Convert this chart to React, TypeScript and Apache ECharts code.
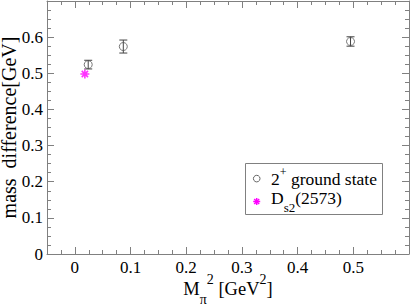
import React, { useEffect, useRef } from "react";
import * as echarts from "echarts";

const groundX = [0.024, 0.087, 0.495];
const groundY = [0.524, 0.574, 0.588];
const groundErr = [0.012, 0.018, 0.013];
const ds2X = [0.018];
const ds2Y = [0.498];
const xTickStep = 0.1;
const yTickStep = 0.1;
const legendLabels = ["{t|2}{sup|+}{t| ground state}", "{t|D}{sub|s2}{t|(2573)}"];

const SERIF = "'Liberation Serif', 'DejaVu Serif', serif";
const FRAME = "#808080";
const MAGENTA = "#ff00ff";
const STAR = "path://M0,-10L0,10M-10,0L10,0M-7,-7L7,7M-7,7L7,-7";

export default function App() {
  const ref = useRef<HTMLDivElement>(null);
  useEffect(() => {
    if (!ref.current) return;
    const chart = echarts.init(ref.current, undefined, { renderer: "svg" });
    const groundData = groundX.map((x, i) => [x, groundY[i]]);
    const errData = groundX.map((x, i) => [x, groundY[i], groundErr[i]]);
    const ds2Data = ds2X.map((x, i) => [x, ds2Y[i]]);

    const axisCommon = {
      axisLine: { show: true, onZero: false, lineStyle: { color: FRAME, width: 1 } },
      axisTick: { show: true, inside: true, length: 7, lineStyle: { color: FRAME, width: 1 } },
      minorTick: { show: true, splitNumber: 4, length: 4, lineStyle: { color: FRAME, width: 1 } },
      splitLine: { show: false },
    };
    const labelStyle = { color: "#000", fontFamily: SERIF, fontSize: 17 };

    const axRich = {
      t: { fontFamily: SERIF, fontSize: 18.5, color: "#000", lineHeight: 34, verticalAlign: "middle" },
      sup: { fontFamily: SERIF, fontSize: 14, color: "#000", lineHeight: 14, verticalAlign: "top" },
      sub: { fontFamily: SERIF, fontSize: 14, color: "#000", lineHeight: 14, verticalAlign: "bottom" },
    };
    const lgRich = {
      t: { fontFamily: SERIF, fontSize: 17.5, color: "#000", lineHeight: 19, verticalAlign: "middle" },
      sup: { fontFamily: SERIF, fontSize: 12, color: "#000", lineHeight: 19, verticalAlign: "middle", padding: [0, 0, 15, 0] },
      sub: { fontFamily: SERIF, fontSize: 13, color: "#000", lineHeight: 19, verticalAlign: "middle", padding: [18, 0, 0, 0] },
    };

    const starLines = [0, 45, 90, 135].map((deg) => {
      const a = (deg * Math.PI) / 180;
      const r = 3.5;
      return {
        type: "line",
        shape: { x1: -r * Math.cos(a), y1: -r * Math.sin(a), x2: r * Math.cos(a), y2: r * Math.sin(a) },
        style: { stroke: MAGENTA, lineWidth: 1.5 },
      };
    });

    chart.setOption({
      animation: false,
      grid: { left: 47, right: 1, top: 1, bottom: 51, containLabel: false, outerBoundsMode: "none" },
      xAxis: [
        {
          type: "value",
          min: -0.05,
          max: 0.6,
          splitNumber: 6,
          position: "bottom",
          ...axisCommon,
          axisLabel: {
            ...labelStyle,
            margin: 5,
            showMinLabel: false,
            showMaxLabel: false,
            formatter: (v: number) => {
              const r = Math.round(v / xTickStep);
              if (Math.abs(v - r * xTickStep) > 1e-6) return "";
              return r === 0 ? "0" : String(+(r * xTickStep).toFixed(1));
            },
          },
          name: "{t|M}{sub|π}{sup|2}{t| [GeV}{sup|2}{t|]}",
          nameLocation: "middle",
          nameGap: 18,
          nameMoveOverlap: false,
          nameTextStyle: { rich: axRich },
        },
        {
          type: "value",
          min: -0.05,
          max: 0.6,
          splitNumber: 6,
          position: "top",
          ...axisCommon,
          axisLabel: { show: false },
        },
      ],
      yAxis: [
        {
          type: "value",
          min: 0,
          max: 0.7,
          interval: yTickStep,
          position: "left",
          ...axisCommon,
          axisLabel: {
            ...labelStyle,
            margin: 4,
            showMaxLabel: false,
            formatter: (v: number) => (v === 0 ? "0" : String(+v.toFixed(1))),
          },
          name: "mass\u00a0\u00a0difference[GeV]",
          nameLocation: "middle",
          nameGap: 28,
          nameMoveOverlap: false,
          nameTextStyle: { color: "#000", fontFamily: SERIF, fontSize: 20 },
        },
        {
          type: "value",
          min: 0,
          max: 0.7,
          interval: yTickStep,
          position: "right",
          ...axisCommon,
          axisLabel: { show: false },
        },
      ],
      graphic: [
        {
          type: "group",
          z: 100,
          children: [
            {
              type: "rect",
              shape: { x: 245.5, y: 163.5, width: 137, height: 51 },
              style: { fill: "#fff", stroke: FRAME, lineWidth: 1 },
            },
            {
              type: "circle",
              x: 256.7,
              y: 178.6,
              shape: { cx: 0, cy: 0, r: 3.3 },
              style: { fill: "none", stroke: "#555", lineWidth: 0.9 },
            },
            { type: "group", x: 256.7, y: 201.5, children: starLines },
            {
              type: "text",
              x: 271,
              y: 179,
              style: { text: legendLabels[0], rich: lgRich, align: "left", verticalAlign: "middle" },
            },
            {
              type: "text",
              x: 271,
              y: 198,
              style: { text: legendLabels[1], rich: lgRich, align: "left", verticalAlign: "middle" },
            },
          ],
        },
      ],
      series: [
        {
          type: "custom",
          name: "err",
          data: errData,
          renderItem: (params: any, api: any) => {
            const x = api.value(0);
            const y = api.value(1);
            const e = api.value(2);
            const top = api.coord([x, y + e]);
            const bot = api.coord([x, y - e]);
            const w = 4;
            const st = { stroke: "#444", lineWidth: 1 };
            return {
              type: "group",
              children: [
                { type: "line", shape: { x1: top[0], y1: top[1], x2: bot[0], y2: bot[1] }, style: st },
                { type: "line", shape: { x1: top[0] - w, y1: top[1], x2: top[0] + w, y2: top[1] }, style: st },
                { type: "line", shape: { x1: bot[0] - w, y1: bot[1], x2: bot[0] + w, y2: bot[1] }, style: st },
              ],
            };
          },
          z: 2,
        },
        {
          type: "scatter",
          name: "2+ ground state",
          data: groundData,
          symbol: "circle",
          symbolSize: 8,
          itemStyle: { color: "rgba(255,255,255,0)", borderColor: "#555", borderWidth: 1 },
          z: 3,
        },
        {
          type: "scatter",
          name: "Ds2(2573)",
          data: ds2Data,
          symbol: STAR,
          symbolSize: 9,
          itemStyle: { color: MAGENTA, borderColor: MAGENTA, borderWidth: 1.6 },
          z: 3,
        },
      ],
    });
    return () => chart.dispose();
  }, []);
  return (
    <div
      ref={ref}
      style={{ position: "fixed", left: 0, top: 0, width: 410, height: 305, background: "#fff" }}
    />
  );
}
